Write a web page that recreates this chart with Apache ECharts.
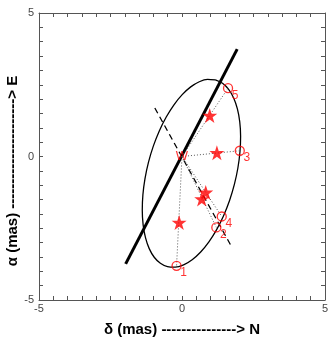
<!DOCTYPE html>
<html>
<head>
<meta charset="utf-8">
<script src="https://cdn.jsdelivr.net/npm/echarts@6/dist/echarts.min.js"></script>
<style>
  html, body { margin: 0; padding: 0; background: #fff; }
  #chart { width: 330px; height: 340px; }
</style>
</head>
<body>
<div id="chart"></div>
<script>
// reference point W
const wPoint = [0, 0]

// open circles, numbered 1..5
const circleLabels = ['1', '2', '3', '4', '5']
const circleX = [-0.19, 1.2, 2.02, 1.39, 1.61]
const circleY = [-3.81, -2.47, 0.2, -2.09, 2.38]

// filled stars
const starX = [0.97, 1.22, 0.83, 0.69, -0.10]
const starY = [1.43, 0.13, -1.25, -1.48, -2.30]

// thick solid line and dashed line (end points)
const solidLine = [[-1.97, -3.74], [1.93, 3.74]]
const dashedLine = [[-0.95, 1.69], [1.76, -3.19]]

// ellipse outline
const ellipseX = [1.168, 1.416, 1.631, 1.806, 1.937, 2.019, 2.049, 2.027, 1.954, 1.831, 1.663, 1.454,
  1.211, 0.941, 0.653, 0.355, 0.056, -0.235, -0.508, -0.756, -0.971, -1.146, -1.277, -1.359,
  -1.389, -1.367, -1.294, -1.171, -1.003, -0.794, -0.551, -0.281, 0.007, 0.305, 0.604, 0.895, 1.168]
const ellipseY = [2.669, 2.552, 2.341, 2.040, 1.659, 1.211, 0.707, 0.165, -0.401, -0.972, -1.531, -2.061,
  -2.547, -2.973, -3.326, -3.596, -3.775, -3.857, -3.839, -3.722, -3.511, -3.210, -2.829, -2.381,
  -1.877, -1.335, -0.769, -0.198, 0.361, 0.891, 1.377, 1.803, 2.156, 2.426, 2.605, 2.687, 2.669]

const xName = 'δ (mas) ---------------> N'
const yName = 'α (mas) ----------------------> E'

const chart = echarts.init(document.getElementById('chart'))

// dotted rays from W to each circle, broken by '-'
const rays = []
circleX.forEach((x, i) => {
  rays.push(wPoint, [x, circleY[i]], '-')
})

const frameColor = '#555'
const labelStyle = { color: '#444', fontSize: 11, fontFamily: 'Liberation Sans' }
const nameStyle = { color: '#000', fontSize: 15, fontWeight: 'bold', fontFamily: 'Liberation Sans' }

function baseAxis(extra) {
  return Object.assign({
    type: 'value',
    min: -5,
    max: 5,
    interval: 5,
    axisLine: { show: true, onZero: false, lineStyle: { color: frameColor, width: 1 } },
    axisTick: { show: true, inside: true, length: 4, lineStyle: { color: frameColor } },
    minorTick: { show: true, splitNumber: 10, length: 4, lineStyle: { color: frameColor } },
    splitLine: { show: false },
    axisLabel: Object.assign({ margin: 5 }, labelStyle),
  }, extra)
}

const option = {
  animation: false,
  grid: { left: 39, right: 5, top: 13, bottom: 40, outerBoundsMode: 'none', containLabel: false },
  xAxis: [
    baseAxis({
      position: 'bottom',
      name: xName,
      nameLocation: 'middle',
      nameGap: 22,
      nameMoveOverlap: false,
      nameTextStyle: nameStyle,
      axisLabel: Object.assign({ margin: 3 }, labelStyle),
    }),
    baseAxis({ position: 'top', axisLabel: { show: false } }),
  ],
  yAxis: [
    baseAxis({
      position: 'left',
      name: yName,
      nameLocation: 'middle',
      nameGap: 19,
      nameMoveOverlap: false,
      nameTextStyle: Object.assign({ padding: [0, 29, 0, 0] }, nameStyle),
    }),
    baseAxis({ position: 'right', axisLabel: { show: false } }),
  ],
  series: [
    {
      type: 'line',
      data: ellipseX.map((x, i) => [x, ellipseY[i]]),
      smooth: 0.3,
      showSymbol: false,
      lineStyle: { color: '#000', width: 1.3 },
      z: 2,
    },
    {
      type: 'line',
      data: solidLine,
      showSymbol: false,
      lineStyle: { color: '#000', width: 3 },
      z: 3,
    },
    {
      type: 'line',
      data: dashedLine,
      showSymbol: false,
      lineStyle: { color: '#000', width: 1.3, type: [6, 4] },
      z: 3,
    },
    {
      type: 'line',
      data: rays,
      connectNulls: false,
      showSymbol: false,
      lineStyle: { color: '#555', width: 1, type: [1, 2] },
      z: 3,
    },
    {
      type: 'scatter',
      data: starX.map((x, i) => [x, starY[i]]),
      symbol: 'path://M50,0 L61.8,35.5 L99,35.5 L69,57.5 L80.5,93 L50,71 L19.5,93 L31,57.5 L1,35.5 L38.2,35.5 Z',
      symbolSize: 15,
      itemStyle: { color: '#ff0000' },
      z: 5,
    },
    {
      type: 'scatter',
      data: circleX.map((x, i) => ({ value: [x, circleY[i]], name: circleLabels[i] })),
      symbol: 'circle',
      symbolSize: 9,
      itemStyle: { color: 'transparent', borderColor: '#ff0000', borderWidth: 1.3 },
      label: {
        show: true,
        formatter: (p) => p.name,
        position: 'inside',
        offset: [7, 7],
        color: '#ff0000',
        fontSize: 12,
        fontFamily: 'Liberation Sans',
      },
      z: 5,
    },
    {
      type: 'scatter',
      data: [wPoint],
      symbolSize: 1,
      itemStyle: { color: 'transparent' },
      label: {
        show: true,
        formatter: 'W',
        position: 'inside',
        color: '#ff0000',
        fontSize: 13,
        fontFamily: 'Liberation Sans',
      },
      z: 5,
    },
  ],
}

chart.setOption(option)
</script>
</body>
</html>
